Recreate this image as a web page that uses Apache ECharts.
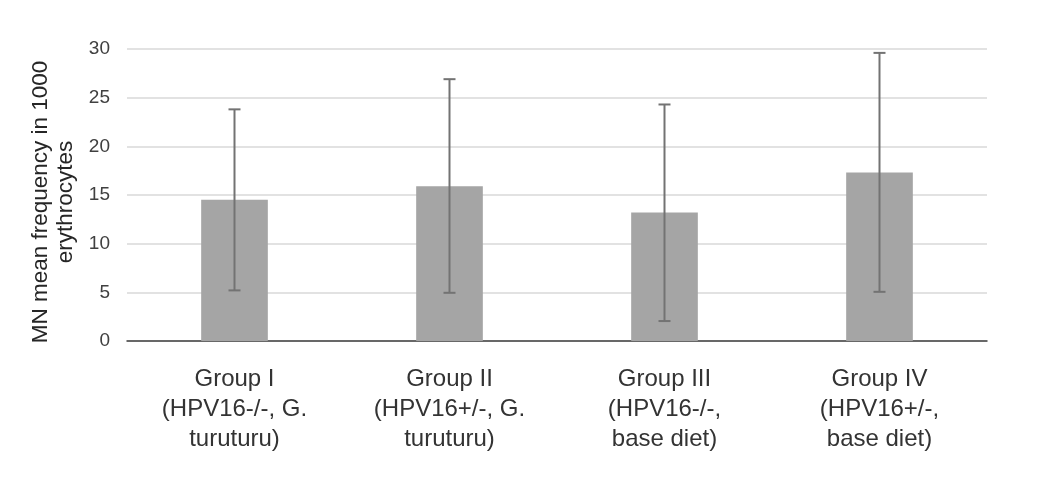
<!DOCTYPE html>
<html>
<head>
<meta charset="utf-8">
<script src="https://cdn.jsdelivr.net/npm/echarts@6/dist/echarts.min.js"></script>
<style>html,body{margin:0;padding:0;background:#fff}#c{width:1040px;height:481px}</style>
</head>
<body>
<div id="c"></div>
<script>
var categories = ["Group I\n(HPV16-/-, G.\nturuturu)", "Group II\n(HPV16+/-, G.\nturuturu)", "Group III\n(HPV16-/-,\nbase diet)", "Group IV\n(HPV16+/-,\nbase diet)"];
var means = [14.5, 15.9, 13.2, 17.3];
var errLow = [5.2, 4.95, 2.05, 5.05];
var errHigh = [23.8, 26.9, 24.3, 29.6];
var yTicks = [0, 5, 10, 15, 20, 25, 30];

var chart = echarts.init(document.getElementById('c'));
var errData = categories.map(function (c, i) { return [i, errLow[i], errHigh[i]]; });
var ff = 'Liberation Sans, Arial, sans-serif';
chart.setOption({
  animation: false,
  grid: { left: 127, right: 53, top: 49, bottom: 140 },
  xAxis: {
    type: 'category',
    data: categories,
    axisLine: { lineStyle: { color: '#404040', width: 1.5 } },
    axisTick: { show: false },
    axisLabel: { color: '#333333', fontSize: 24, lineHeight: 30, margin: 23, fontFamily: ff }
  },
  yAxis: {
    type: 'value',
    min: 0, max: 30, interval: 5,
    name: 'MN mean frequency in 1000\nerythrocytes',
    nameLocation: 'middle',
    nameGap: 47,
    nameRotate: 90,
    nameTextStyle: { color: '#262626', fontSize: 22.5, lineHeight: 25, fontFamily: ff, padding: [0, 14, 0, 0] },
    axisLine: { show: false },
    axisTick: { show: false },
    splitLine: { lineStyle: { color: '#d9d9d9', width: 1.5 } },
    axisLabel: { color: '#404040', fontSize: 19, margin: 17, fontFamily: ff,
      formatter: function (v) { return yTicks.indexOf(v) >= 0 ? String(v) : ''; } }
  },
  series: [
    {
      type: 'bar',
      data: means,
      barWidth: '31%',
      itemStyle: { color: '#a5a5a5' }
    },
    {
      type: 'custom',
      data: errData,
      z: 10,
      renderItem: function (params, api) {
        var x = api.value(0);
        var lo = api.coord([x, api.value(1)]);
        var hi = api.coord([x, api.value(2)]);
        var hw = 6;
        var st = { stroke: '#737373', lineWidth: 2 };
        return {
          type: 'group',
          children: [
            { type: 'line', shape: { x1: lo[0], y1: lo[1], x2: hi[0], y2: hi[1] }, style: st },
            { type: 'line', shape: { x1: lo[0] - hw, y1: lo[1], x2: lo[0] + hw, y2: lo[1] }, style: st },
            { type: 'line', shape: { x1: hi[0] - hw, y1: hi[1], x2: hi[0] + hw, y2: hi[1] }, style: st }
          ]
        };
      }
    }
  ]
});
</script>
</body>
</html>
